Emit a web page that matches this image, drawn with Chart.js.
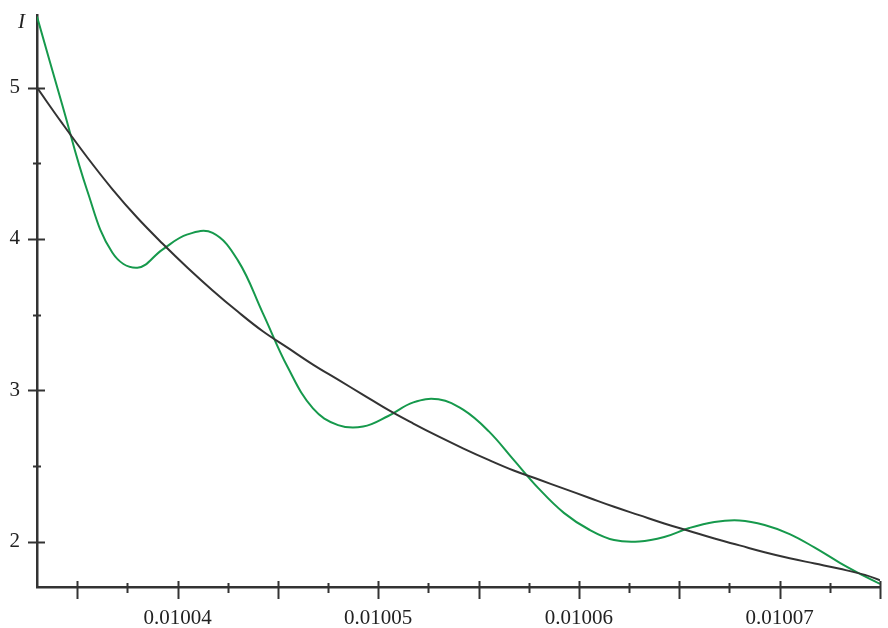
<!DOCTYPE html>
<html>
<head>
<meta charset="utf-8">
<script src="https://cdn.jsdelivr.net/npm/chart.js@4.4.0/dist/chart.umd.min.js"></script>
<style>
    html, body { margin: 0; padding: 0; background: #fff; }
    #wrap { width: 888px; height: 628px; }
</style>
</head>
<body>
<div id="wrap"><canvas id="chart"></canvas></div>
<script>
// ================= DATA =================
const xValues = [
    0.0100330, 0.01003425, 0.0100355, 0.01003675, 0.0100380, 0.01003925, 0.0100405,
    0.01004175, 0.0100430, 0.01004425, 0.0100455, 0.01004675, 0.0100480, 0.01004925,
    0.0100505, 0.01005175, 0.0100530, 0.01005425, 0.0100555, 0.01005675, 0.0100580,
    0.01005925, 0.0100605, 0.01006175, 0.0100630, 0.01006425, 0.0100655, 0.01006675,
    0.0100680, 0.01006925, 0.0100705, 0.01007175, 0.0100730, 0.01007425, 0.0100750
];
const smoothI = [
    5.00, 4.765, 4.54, 4.33, 4.14, 3.97, 3.81, 3.66, 3.52, 3.39, 3.28, 3.17, 3.07, 2.97,
    2.87, 2.78, 2.695, 2.615, 2.54, 2.47, 2.41, 2.35, 2.29, 2.23, 2.175, 2.12, 2.07, 2.02,
    1.975, 1.93, 1.89, 1.855, 1.82, 1.78, 1.745
];
const oscI = [
    5.47, 4.89, 4.32, 3.91, 3.81, 3.93, 4.03, 4.04, 3.86, 3.51, 3.15, 2.88, 2.77, 2.76,
    2.83, 2.92, 2.94, 2.87, 2.73, 2.54, 2.35, 2.19, 2.08, 2.01, 2.00, 2.03, 2.09, 2.13,
    2.14, 2.11, 2.05, 1.96, 1.86, 1.77, 1.72
];
const xTicks = [
    0.010035, 0.0100375, 0.01004, 0.0100425, 0.010045, 0.0100475, 0.01005, 0.0100525,
    0.010055, 0.0100575, 0.01006, 0.0100625, 0.010065, 0.0100675, 0.01007, 0.0100725, 0.010075
];
const xLabelTicks = [0.01004, 0.01005, 0.01006, 0.01007];
const yTicks = [2, 2.5, 3, 3.5, 4, 4.5, 5];
const yLabelTicks = [2, 3, 4, 5];

const AXIS = "#333333";
const SERIF = "'Liberation Serif', 'DejaVu Serif', serif";

function isLabelled(list, v) {
    return list.some(t => Math.abs(t - v) < 1e-9);
}

// fixed scale sizes, no extra room for end labels
function fixSize(s, size) {
    if (s.isHorizontal()) s.height = size; else s.width = size;
    s.paddingTop = 0; s.paddingBottom = 0;
    s.paddingLeft = 0; s.paddingRight = 0;
}

// ================= AXIS TICKS (crossing the axis line) =================
const crossTicks = {
    id: "crossTicks",
    afterDraw(chart) {
        const ctx = chart.ctx;
        const xs = chart.scales.x, ys = chart.scales.y;
        const area = chart.chartArea;
        ctx.save();
        ctx.strokeStyle = AXIS;
        ctx.lineWidth = 2;
        xTicks.forEach((v, i) => {
            const px = Math.round(xs.getPixelForValue(v)) + 0.5;
            const major = i % 2 === 0;
            ctx.beginPath();
            ctx.moveTo(px, area.bottom - (major ? 6 : 4));
            ctx.lineTo(px, area.bottom + (major ? 12 : 6));
            ctx.stroke();
        });
        yTicks.forEach(v => {
            const py = Math.round(ys.getPixelForValue(v)) + 0.5;
            const major = Number.isInteger(v);
            ctx.beginPath();
            ctx.moveTo(area.left - (major ? 9 : 4), py);
            ctx.lineTo(area.left + (major ? 8 : 4), py);
            ctx.stroke();
        });
        // axis title
        ctx.fillStyle = "#222";
        ctx.font = "italic 21px " + SERIF;
        ctx.textAlign = "left";
        ctx.textBaseline = "alphabetic";
        ctx.fillText("I", 18, 28);
        ctx.restore();
    }
};

// ================= CHART =================
new Chart(document.getElementById("chart"), {
    type: "line",
    data: {
        datasets: [
            {
                data: xValues.map((x, i) => ({ x, y: smoothI[i] })),
                borderColor: "#333333",
                borderWidth: 2,
                pointRadius: 0,
                tension: 0.4
            },
            {
                data: xValues.map((x, i) => ({ x, y: oscI[i] })),
                borderColor: "#16994c",
                borderWidth: 2,
                pointRadius: 0,
                tension: 0.4
            }
        ]
    },
    options: {
        responsive: true,
        maintainAspectRatio: false,
        animation: false,
        layout: { padding: { top: 15, right: 8, left: 0, bottom: 0 } },
        plugins: { legend: { display: false }, tooltip: { enabled: false } },
        scales: {
            x: {
                type: "linear",
                min: 0.010033,
                max: 0.010075,
                afterFit: s => fixSize(s, 41),
                afterBuildTicks: s => { s.ticks = xTicks.map(value => ({ value })); },
                grid: { display: false, drawTicks: false },
                border: { display: true, color: AXIS, width: 2.5 },
                ticks: {
                    autoSkip: false,
                    maxRotation: 0,
                    padding: 19,
                    color: "#222",
                    font: { family: SERIF, size: 21 },
                    callback: v => isLabelled(xLabelTicks, v) ? v.toFixed(5) : ""
                }
            },
            y: {
                min: 1.7,
                max: 5.48,
                afterFit: s => fixSize(s, 37),
                afterBuildTicks: s => { s.ticks = yTicks.map(value => ({ value })); },
                grid: { display: false, drawTicks: false },
                border: { display: true, color: AXIS, width: 2.5 },
                ticks: {
                    autoSkip: false,
                    padding: 17,
                    color: "#222",
                    font: { family: SERIF, size: 21 },
                    callback: v => isLabelled(yLabelTicks, v) ? String(v) : ""
                }
            }
        }
    },
    plugins: [crossTicks]
});
</script>
</body>
</html>
